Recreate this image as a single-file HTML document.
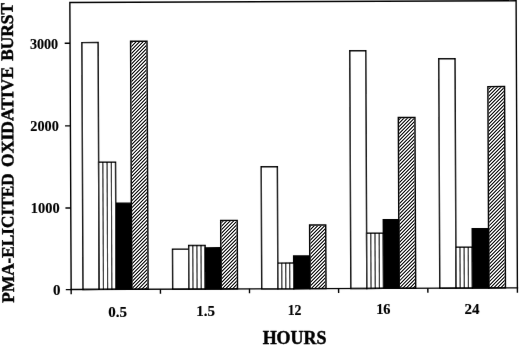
<!DOCTYPE html>
<html><head><meta charset="utf-8"><style>
html,body{margin:0;padding:0;background:#fff;}
svg{display:block;}
text{font-family:"Liberation Serif",serif;font-weight:bold;fill:#000;stroke:#000;stroke-width:0.45px;}
</style></head><body>
<svg width="520" height="345" viewBox="0 0 520 345" xmlns="http://www.w3.org/2000/svg">
<defs>
<filter id="soft" filterUnits="userSpaceOnUse" x="0" y="0" width="520" height="345"><feConvolveMatrix order="3" kernelMatrix="0.00163 0.03713 0.00163 0.03713 0.84497 0.03713 0.00163 0.03713 0.00163" edgeMode="duplicate"/></filter>
</defs>
<rect width="520" height="345" fill="#fff"/>
<g filter="url(#soft)">
<g transform="matrix(1 -0.0037 0.0045 1 -1.3050 0.2627)">

<rect x="83.00" y="42.67" width="16.20" height="246.83" fill="#fff" stroke="#000" stroke-width="1.45"/>
<rect x="99.20" y="162.33" width="16.90" height="127.17" fill="#fff" stroke="#000" stroke-width="1.45"/>
<line x1="103.42" y1="162.33" x2="103.42" y2="289.50" stroke="#000" stroke-width="1.1"/>
<line x1="107.65" y1="162.33" x2="107.65" y2="289.50" stroke="#000" stroke-width="1.1"/>
<line x1="111.88" y1="162.33" x2="111.88" y2="289.50" stroke="#000" stroke-width="1.1"/>
<rect x="116.10" y="203.35" width="15.60" height="86.15" fill="#000" stroke="#000" stroke-width="1.45"/>
<rect x="131.70" y="41.46" width="16.40" height="248.04" fill="none" stroke="#000" stroke-width="1.45"/>
<rect x="172.70" y="249.60" width="16.20" height="39.90" fill="#fff" stroke="#000" stroke-width="1.45"/>
<rect x="188.90" y="245.97" width="16.40" height="43.53" fill="#fff" stroke="#000" stroke-width="1.45"/>
<line x1="193.00" y1="245.97" x2="193.00" y2="289.50" stroke="#000" stroke-width="1.1"/>
<line x1="197.10" y1="245.97" x2="197.10" y2="289.50" stroke="#000" stroke-width="1.1"/>
<line x1="201.20" y1="245.97" x2="201.20" y2="289.50" stroke="#000" stroke-width="1.1"/>
<rect x="205.30" y="248.38" width="15.70" height="41.12" fill="#000" stroke="#000" stroke-width="1.45"/>
<rect x="221.00" y="220.98" width="16.50" height="68.52" fill="none" stroke="#000" stroke-width="1.45"/>
<rect x="261.75" y="167.53" width="16.15" height="121.97" fill="#fff" stroke="#000" stroke-width="1.45"/>
<rect x="277.90" y="263.89" width="15.90" height="25.61" fill="#fff" stroke="#000" stroke-width="1.45"/>
<line x1="281.88" y1="263.89" x2="281.88" y2="289.50" stroke="#000" stroke-width="1.1"/>
<line x1="285.85" y1="263.89" x2="285.85" y2="289.50" stroke="#000" stroke-width="1.1"/>
<line x1="289.82" y1="263.89" x2="289.82" y2="289.50" stroke="#000" stroke-width="1.1"/>
<rect x="293.80" y="256.90" width="16.10" height="32.60" fill="#000" stroke="#000" stroke-width="1.45"/>
<rect x="309.90" y="225.91" width="16.10" height="63.59" fill="none" stroke="#000" stroke-width="1.45"/>
<rect x="350.85" y="51.76" width="16.00" height="237.74" fill="#fff" stroke="#000" stroke-width="1.45"/>
<rect x="366.85" y="234.42" width="16.75" height="55.08" fill="#fff" stroke="#000" stroke-width="1.45"/>
<line x1="371.04" y1="234.42" x2="371.04" y2="289.50" stroke="#000" stroke-width="1.1"/>
<line x1="375.23" y1="234.42" x2="375.23" y2="289.50" stroke="#000" stroke-width="1.1"/>
<line x1="379.41" y1="234.42" x2="379.41" y2="289.50" stroke="#000" stroke-width="1.1"/>
<rect x="383.60" y="220.83" width="15.50" height="68.67" fill="#000" stroke="#000" stroke-width="1.45"/>
<rect x="399.10" y="118.74" width="16.60" height="170.76" fill="none" stroke="#000" stroke-width="1.45"/>
<rect x="439.80" y="60.19" width="16.25" height="229.31" fill="#fff" stroke="#000" stroke-width="1.45"/>
<rect x="456.05" y="248.75" width="16.45" height="40.75" fill="#fff" stroke="#000" stroke-width="1.45"/>
<line x1="460.16" y1="248.75" x2="460.16" y2="289.50" stroke="#000" stroke-width="1.1"/>
<line x1="464.27" y1="248.75" x2="464.27" y2="289.50" stroke="#000" stroke-width="1.1"/>
<line x1="468.39" y1="248.75" x2="468.39" y2="289.50" stroke="#000" stroke-width="1.1"/>
<rect x="472.50" y="230.26" width="16.30" height="59.24" fill="#000" stroke="#000" stroke-width="1.45"/>
<rect x="488.80" y="88.18" width="16.65" height="201.32" fill="none" stroke="#000" stroke-width="1.45"/>
<path d="M71.15 294.2 L71.15 2.45 L517.4 2.45 L517.4 294.3" fill="none" stroke="#000" stroke-width="1.4"/>
<line x1="70.4" y1="289.5" x2="518.15" y2="289.5" stroke="#000" stroke-width="1.35"/>
<line x1="65.8" y1="43.3" x2="71.15" y2="43.3" stroke="#000" stroke-width="1.4"/>
<line x1="65.8" y1="125.9" x2="71.15" y2="125.9" stroke="#000" stroke-width="1.4"/>
<line x1="65.8" y1="208.0" x2="71.15" y2="208.0" stroke="#000" stroke-width="1.4"/>
<line x1="65.8" y1="289.6" x2="71.15" y2="289.6" stroke="#000" stroke-width="1.4"/>
<line x1="160.45" y1="289.5" x2="160.45" y2="294.0" stroke="#000" stroke-width="1.4"/>
<line x1="249.50" y1="289.5" x2="249.50" y2="294.0" stroke="#000" stroke-width="1.4"/>
<line x1="338.60" y1="289.5" x2="338.60" y2="294.0" stroke="#000" stroke-width="1.4"/>
<line x1="427.85" y1="289.5" x2="427.85" y2="294.0" stroke="#000" stroke-width="1.4"/>
</g>
</g>
<g transform="matrix(1 -0.0037 0.0045 1 -1.3050 0.2627)">
<clipPath id="c0"><rect x="132.42" y="42.18" width="14.95" height="247.32"/></clipPath>
<g clip-path="url(#c0)" stroke="#000" stroke-width="1.05">
<path d="M129.70 42.50L150.10 22.10M129.70 46.00L150.10 25.60M129.70 49.50L150.10 29.10M129.70 53.00L150.10 32.60M129.70 56.50L150.10 36.10M129.70 60.00L150.10 39.60M129.70 63.50L150.10 43.10M129.70 67.00L150.10 46.60M129.70 70.50L150.10 50.10M129.70 74.00L150.10 53.60M129.70 77.50L150.10 57.10M129.70 81.00L150.10 60.60M129.70 84.50L150.10 64.10M129.70 88.00L150.10 67.60M129.70 91.50L150.10 71.10M129.70 95.00L150.10 74.60M129.70 98.50L150.10 78.10M129.70 102.00L150.10 81.60M129.70 105.50L150.10 85.10M129.70 109.00L150.10 88.60M129.70 112.50L150.10 92.10M129.70 116.00L150.10 95.60M129.70 119.50L150.10 99.10M129.70 123.00L150.10 102.60M129.70 126.50L150.10 106.10M129.70 130.00L150.10 109.60M129.70 133.50L150.10 113.10M129.70 137.00L150.10 116.60M129.70 140.50L150.10 120.10M129.70 144.00L150.10 123.60M129.70 147.50L150.10 127.10M129.70 151.00L150.10 130.60M129.70 154.50L150.10 134.10M129.70 158.00L150.10 137.60M129.70 161.50L150.10 141.10M129.70 165.00L150.10 144.60M129.70 168.50L150.10 148.10M129.70 172.00L150.10 151.60M129.70 175.50L150.10 155.10M129.70 179.00L150.10 158.60M129.70 182.50L150.10 162.10M129.70 186.00L150.10 165.60M129.70 189.50L150.10 169.10M129.70 193.00L150.10 172.60M129.70 196.50L150.10 176.10M129.70 200.00L150.10 179.60M129.70 203.50L150.10 183.10M129.70 207.00L150.10 186.60M129.70 210.50L150.10 190.10M129.70 214.00L150.10 193.60M129.70 217.50L150.10 197.10M129.70 221.00L150.10 200.60M129.70 224.50L150.10 204.10M129.70 228.00L150.10 207.60M129.70 231.50L150.10 211.10M129.70 235.00L150.10 214.60M129.70 238.50L150.10 218.10M129.70 242.00L150.10 221.60M129.70 245.50L150.10 225.10M129.70 249.00L150.10 228.60M129.70 252.50L150.10 232.10M129.70 256.00L150.10 235.60M129.70 259.50L150.10 239.10M129.70 263.00L150.10 242.60M129.70 266.50L150.10 246.10M129.70 270.00L150.10 249.60M129.70 273.50L150.10 253.10M129.70 277.00L150.10 256.60M129.70 280.50L150.10 260.10M129.70 284.00L150.10 263.60M129.70 287.50L150.10 267.10M129.70 291.00L150.10 270.60M129.70 294.50L150.10 274.10M129.70 298.00L150.10 277.60M129.70 301.50L150.10 281.10M129.70 305.00L150.10 284.60M129.70 308.50L150.10 288.10" fill="none"/>
</g>
<clipPath id="c1"><rect x="221.72" y="221.71" width="15.05" height="67.79"/></clipPath>
<g clip-path="url(#c1)" stroke="#000" stroke-width="1.05">
<path d="M219.00 222.50L239.50 202.00M219.00 226.00L239.50 205.50M219.00 229.50L239.50 209.00M219.00 233.00L239.50 212.50M219.00 236.50L239.50 216.00M219.00 240.00L239.50 219.50M219.00 243.50L239.50 223.00M219.00 247.00L239.50 226.50M219.00 250.50L239.50 230.00M219.00 254.00L239.50 233.50M219.00 257.50L239.50 237.00M219.00 261.00L239.50 240.50M219.00 264.50L239.50 244.00M219.00 268.00L239.50 247.50M219.00 271.50L239.50 251.00M219.00 275.00L239.50 254.50M219.00 278.50L239.50 258.00M219.00 282.00L239.50 261.50M219.00 285.50L239.50 265.00M219.00 289.00L239.50 268.50M219.00 292.50L239.50 272.00M219.00 296.00L239.50 275.50M219.00 299.50L239.50 279.00M219.00 303.00L239.50 282.50M219.00 306.50L239.50 286.00M219.00 310.00L239.50 289.50" fill="none"/>
</g>
<clipPath id="c2"><rect x="310.62" y="226.64" width="14.65" height="62.86"/></clipPath>
<g clip-path="url(#c2)" stroke="#000" stroke-width="1.05">
<path d="M307.90 226.26L328.00 206.16M307.90 229.76L328.00 209.66M307.90 233.26L328.00 213.16M307.90 236.76L328.00 216.66M307.90 240.26L328.00 220.16M307.90 243.76L328.00 223.66M307.90 247.26L328.00 227.16M307.90 250.76L328.00 230.66M307.90 254.26L328.00 234.16M307.90 257.76L328.00 237.66M307.90 261.26L328.00 241.16M307.90 264.76L328.00 244.66M307.90 268.26L328.00 248.16M307.90 271.76L328.00 251.66M307.90 275.26L328.00 255.16M307.90 278.76L328.00 258.66M307.90 282.26L328.00 262.16M307.90 285.76L328.00 265.66M307.90 289.26L328.00 269.16M307.90 292.76L328.00 272.66M307.90 296.26L328.00 276.16M307.90 299.76L328.00 279.66M307.90 303.26L328.00 283.16M307.90 306.76L328.00 286.66M307.90 310.26L328.00 290.16" fill="none"/>
</g>
<clipPath id="c3"><rect x="399.83" y="119.47" width="15.15" height="170.03"/></clipPath>
<g clip-path="url(#c3)" stroke="#000" stroke-width="1.05">
<path d="M397.10 120.02L417.70 99.42M397.10 123.52L417.70 102.92M397.10 127.02L417.70 106.42M397.10 130.52L417.70 109.92M397.10 134.02L417.70 113.42M397.10 137.52L417.70 116.92M397.10 141.02L417.70 120.42M397.10 144.52L417.70 123.92M397.10 148.02L417.70 127.42M397.10 151.52L417.70 130.92M397.10 155.02L417.70 134.42M397.10 158.52L417.70 137.92M397.10 162.02L417.70 141.42M397.10 165.52L417.70 144.92M397.10 169.02L417.70 148.42M397.10 172.52L417.70 151.92M397.10 176.02L417.70 155.42M397.10 179.52L417.70 158.92M397.10 183.02L417.70 162.42M397.10 186.52L417.70 165.92M397.10 190.02L417.70 169.42M397.10 193.52L417.70 172.92M397.10 197.02L417.70 176.42M397.10 200.52L417.70 179.92M397.10 204.02L417.70 183.42M397.10 207.52L417.70 186.92M397.10 211.02L417.70 190.42M397.10 214.52L417.70 193.92M397.10 218.02L417.70 197.42M397.10 221.52L417.70 200.92M397.10 225.02L417.70 204.42M397.10 228.52L417.70 207.92M397.10 232.02L417.70 211.42M397.10 235.52L417.70 214.92M397.10 239.02L417.70 218.42M397.10 242.52L417.70 221.92M397.10 246.02L417.70 225.42M397.10 249.52L417.70 228.92M397.10 253.02L417.70 232.42M397.10 256.52L417.70 235.92M397.10 260.02L417.70 239.42M397.10 263.52L417.70 242.92M397.10 267.02L417.70 246.42M397.10 270.52L417.70 249.92M397.10 274.02L417.70 253.42M397.10 277.52L417.70 256.92M397.10 281.02L417.70 260.42M397.10 284.52L417.70 263.92M397.10 288.02L417.70 267.42M397.10 291.52L417.70 270.92M397.10 295.02L417.70 274.42M397.10 298.52L417.70 277.92M397.10 302.02L417.70 281.42M397.10 305.52L417.70 284.92M397.10 309.02L417.70 288.42" fill="none"/>
</g>
<clipPath id="c4"><rect x="489.53" y="88.90" width="15.20" height="200.60"/></clipPath>
<g clip-path="url(#c4)" stroke="#000" stroke-width="1.05">
<path d="M486.80 89.90L507.45 69.25M486.80 93.40L507.45 72.75M486.80 96.90L507.45 76.25M486.80 100.40L507.45 79.75M486.80 103.90L507.45 83.25M486.80 107.40L507.45 86.75M486.80 110.90L507.45 90.25M486.80 114.40L507.45 93.75M486.80 117.90L507.45 97.25M486.80 121.40L507.45 100.75M486.80 124.90L507.45 104.25M486.80 128.40L507.45 107.75M486.80 131.90L507.45 111.25M486.80 135.40L507.45 114.75M486.80 138.90L507.45 118.25M486.80 142.40L507.45 121.75M486.80 145.90L507.45 125.25M486.80 149.40L507.45 128.75M486.80 152.90L507.45 132.25M486.80 156.40L507.45 135.75M486.80 159.90L507.45 139.25M486.80 163.40L507.45 142.75M486.80 166.90L507.45 146.25M486.80 170.40L507.45 149.75M486.80 173.90L507.45 153.25M486.80 177.40L507.45 156.75M486.80 180.90L507.45 160.25M486.80 184.40L507.45 163.75M486.80 187.90L507.45 167.25M486.80 191.40L507.45 170.75M486.80 194.90L507.45 174.25M486.80 198.40L507.45 177.75M486.80 201.90L507.45 181.25M486.80 205.40L507.45 184.75M486.80 208.90L507.45 188.25M486.80 212.40L507.45 191.75M486.80 215.90L507.45 195.25M486.80 219.40L507.45 198.75M486.80 222.90L507.45 202.25M486.80 226.40L507.45 205.75M486.80 229.90L507.45 209.25M486.80 233.40L507.45 212.75M486.80 236.90L507.45 216.25M486.80 240.40L507.45 219.75M486.80 243.90L507.45 223.25M486.80 247.40L507.45 226.75M486.80 250.90L507.45 230.25M486.80 254.40L507.45 233.75M486.80 257.90L507.45 237.25M486.80 261.40L507.45 240.75M486.80 264.90L507.45 244.25M486.80 268.40L507.45 247.75M486.80 271.90L507.45 251.25M486.80 275.40L507.45 254.75M486.80 278.90L507.45 258.25M486.80 282.40L507.45 261.75M486.80 285.90L507.45 265.25M486.80 289.40L507.45 268.75M486.80 292.90L507.45 272.25M486.80 296.40L507.45 275.75M486.80 299.90L507.45 279.25M486.80 303.40L507.45 282.75M486.80 306.90L507.45 286.25M486.80 310.40L507.45 289.75" fill="none"/>
</g>
</g>
<g filter="url(#soft)">
<text x="58.2" y="49.15" font-size="15" style="stroke-width:0.15px" text-anchor="end" textLength="28.3" lengthAdjust="spacingAndGlyphs">3000</text>
<text x="58.8" y="131.35" font-size="15" style="stroke-width:0.15px" text-anchor="end" textLength="28.5" lengthAdjust="spacingAndGlyphs">2000</text>
<text x="59.6" y="213.45" font-size="15" style="stroke-width:0.15px" text-anchor="end" textLength="28.8" lengthAdjust="spacingAndGlyphs">1000</text>
<text x="60.5" y="294.95" font-size="15" style="stroke-width:0.15px" text-anchor="end">0</text>
<text x="117.6" y="317.24" font-size="15" style="stroke-width:0.15px" text-anchor="middle">0.5</text>
<text x="205.5" y="316.29" font-size="15" style="stroke-width:0.15px" text-anchor="middle">1.5</text>
<text x="294.6" y="314.74" font-size="15" style="stroke-width:0.15px" text-anchor="middle" textLength="13.8" lengthAdjust="spacingAndGlyphs">12</text>
<text x="383.35" y="314.14" font-size="15" style="stroke-width:0.15px" text-anchor="middle" textLength="14.4" lengthAdjust="spacingAndGlyphs">16</text>
<text x="472.1" y="313.84" font-size="15" style="stroke-width:0.15px" text-anchor="middle">24</text>
<text x="294.6" y="343.9" font-size="17.9" text-anchor="middle" textLength="63.9" lengthAdjust="spacingAndGlyphs">HOURS</text>
<text transform="translate(12.93 31.85) rotate(-90.24)" x="0" y="0" font-size="17.7" text-anchor="middle" textLength="58.00" lengthAdjust="spacingAndGlyphs">BURST</text>
<text transform="translate(13.23 116.85) rotate(-90.24)" x="0" y="0" font-size="17.7" text-anchor="middle" textLength="100.20" lengthAdjust="spacingAndGlyphs">OXIDATIVE</text>
<text transform="translate(13.65 238.00) rotate(-90.24)" x="0" y="0" font-size="17.7" text-anchor="middle" textLength="129.30" lengthAdjust="spacingAndGlyphs">PMA-ELICITED</text>
</g></svg></body></html>
